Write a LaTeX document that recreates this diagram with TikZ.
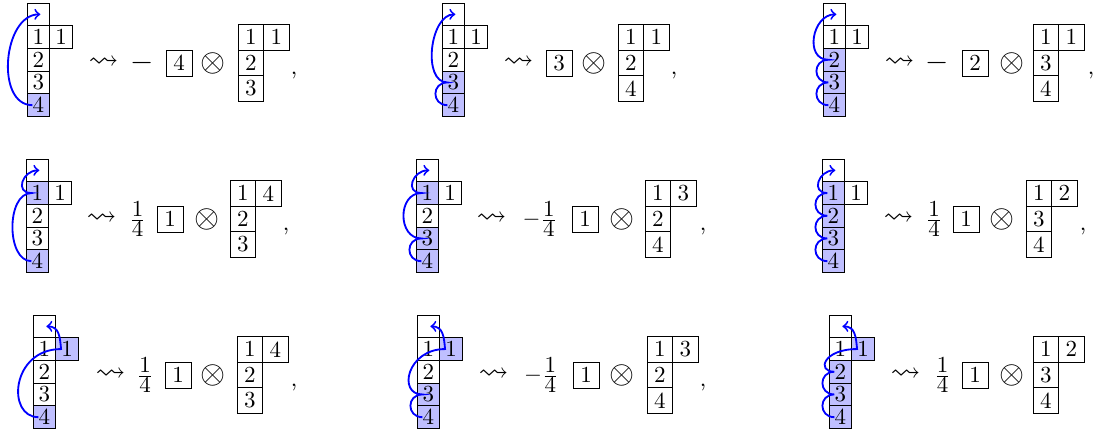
\documentclass[tikz,border=0pt]{standalone}
\usepackage{amssymb}
\usepackage{graphicx}
\usetikzlibrary{calc}
\definecolor{shadeblue}{RGB}{191,191,255}
\tikzset{
  cellL/.style={draw, inner sep=0pt, minimum width=9.87pt, minimum height=9.87pt},
  shcellL/.style={cellL, fill=shadeblue},
  cellR/.style={draw, inner sep=0pt, minimum width=11.13pt, minimum height=11.13pt},
  boxed/.style={draw, inner sep=0pt, minimum width=11.3pt, minimum height=11.3pt},
  sym/.style={inner sep=0pt},
  arr/.style={blue, line width=0.8pt, ->},
}
\newcommand\enl[1]{\scalebox{1.3}{$#1$}}
\newcommand\qtr{$\frac{\textstyle 1}{\textstyle 4}$}
% left tableau: name, left x, top y, styles of rows 1..4 and of the second-column cell
\newcommand\lefttab[8]{%
  \node[cellL] (#1-0) at (#2+11.35,#3+11.35) {};
  \node[#4] (#1-1) at (#2+11.35,#3+34.05) {1};
  \node[#5] (#1-2) at (#2+11.35,#3+56.75) {2};
  \node[#6] (#1-3) at (#2+11.35,#3+79.45) {3};
  \node[#7] (#1-4) at (#2+11.35,#3+102.15) {4};
  \node[#8] (#1-1r) at (#2+34.05,#3+34.05) {1};
}
% squiggle, box and otimes: name, y0, squiggle left, box left, box entry, otimes centre
\newcommand\opbox[6]{%
  \node[sym] (#1-s) at (#3+13.5,#2+60) {\enl{\rightsquigarrow}};
  \node[boxed] (#1-b) at (#4+13,#2+60) {#5};
  \node[sym] (#1-o) at (#6,#2+60) {\scalebox{1.4}{$\otimes$}};
}
% right tableau: name, y0, left x, top-right entry, second row, third row
\newcommand\rtab[6]{%
  \node[cellR] (#1-r11) at (#3+12.8,#2+34.3) {1};
  \node[cellR] (#1-r12) at (#3+38.4,#2+34.3) {#4};
  \node[cellR] (#1-r2) at (#3+12.8,#2+59.9) {#5};
  \node[cellR] (#1-r3) at (#3+12.8,#2+85.5) {#6};
}
\begin{document}
\begin{tikzpicture}[x=0.4348pt,y=-0.4348pt]
\useasboundingbox (0,0) rectangle (1097,434);
% ---------------- row 1 ----------------
\lefttab{a}{27}{3}{cellL}{cellL}{cellL}{shcellL}{cellL}
\opbox{a}{3}{90}{166}{4}{213}
\node[sym] (a-c) at (142.5,63) {\enl{-}};
\rtab{a}{3}{238}{1}{2}{3}
\node[sym,anchor=base] (a-k) at (294,74) {,};
\draw[arr] ($(a-4)+(-6,0)$) to[out=180,in=180,looseness=1.05] ($(a-0)+(2,0)$);

\lefttab{b}{442}{3}{cellL}{cellL}{shcellL}{shcellL}{cellL}
\opbox{b}{3}{505}{546}{3}{594}
\rtab{b}{3}{618}{1}{2}{4}
\node[sym,anchor=base] (b-k) at (674,74) {,};
\draw[arr] ($(b-4)+(-6,0)$) to[out=180,in=180,looseness=1.8] ($(b-3)+(-6,0)$)
  to[out=180,in=180,looseness=0.95] ($(b-0)+(2,0)$);

\lefttab{c}{823}{3}{cellL}{shcellL}{shcellL}{shcellL}{cellL}
\opbox{c}{3}{886}{962}{2}{1012}
\node[sym] (c-c) at (937.5,63) {\enl{-}};
\rtab{c}{3}{1033}{1}{3}{4}
\node[sym,anchor=base] (c-k) at (1091,74) {,};
\draw[arr] ($(c-4)+(-6,0)$) to[out=180,in=180,looseness=1.8] ($(c-3)+(-6,0)$)
  to[out=180,in=180,looseness=1.8] ($(c-2)+(-6,0)$)
  to[out=180,in=180,looseness=1.35] ($(c-0)+(2,0)$);
% ---------------- row 2 ----------------
\lefttab{d}{26}{159}{shcellL}{cellL}{cellL}{shcellL}{cellL}
\opbox{d}{159}{88}{157}{1}{207}
\node[sym] (d-c) at (137.5,219) {\qtr};
\rtab{d}{159}{230}{4}{2}{3}
\node[sym,anchor=base] (d-k) at (286,230) {,};
\draw[arr] ($(d-4)+(-6,0)$) to[out=180,in=180,looseness=0.95] ($(d-1)+(-6,0)$)
  to[out=180,in=180,looseness=1.8] ($(d-0)+(2,0)$);

\lefttab{e}{416}{159}{shcellL}{cellL}{shcellL}{shcellL}{cellL}
\opbox{e}{159}{478}{572}{1}{622}
\node[sym] (e-c) at (540,219) {$-$\qtr};
\rtab{e}{159}{645}{3}{2}{4}
\node[sym,anchor=base] (e-k) at (703,230) {,};
\draw[arr] ($(e-4)+(-6,0)$) to[out=180,in=180,looseness=1.8] ($(e-3)+(-6,0)$)
  to[out=180,in=180,looseness=1.35] ($(e-1)+(-6,0)$)
  to[out=180,in=180,looseness=1.8] ($(e-0)+(2,0)$);

\lefttab{f}{822}{159}{shcellL}{shcellL}{shcellL}{shcellL}{cellL}
\opbox{f}{159}{885}{953}{1}{1002}
\node[sym] (f-c) at (934,219) {\qtr};
\rtab{f}{159}{1026}{2}{3}{4}
\node[sym,anchor=base] (f-k) at (1083,230) {,};
\draw[arr] ($(f-4)+(-6,0)$) to[out=180,in=180,looseness=1.8] ($(f-3)+(-6,0)$)
  to[out=180,in=180,looseness=1.8] ($(f-2)+(-6,0)$)
  to[out=180,in=180,looseness=1.8] ($(f-1)+(-6,0)$)
  to[out=180,in=180,looseness=1.8] ($(f-0)+(2,0)$);
% ---------------- row 3 ----------------
\lefttab{g}{33}{315}{cellL}{cellL}{cellL}{shcellL}{shcellL}
\opbox{g}{315}{97}{165}{1}{213}
\node[sym] (g-c) at (145,375) {\qtr};
\rtab{g}{315}{237}{4}{2}{3}
\node[sym,anchor=base] (g-k) at (294,386) {,};
\draw[arr] ($(g-4)+(-6,0)$) .. controls +(-32,0) and +(-50,0) .. ($(g-1r)+(-6,0)$)
  to[out=95,in=0,looseness=1.2] ($(g-0)+(2,0)$);

\lefttab{h}{417}{315}{cellL}{cellL}{shcellL}{shcellL}{shcellL}
\opbox{h}{315}{480}{573}{1}{622}
\node[sym] (h-c) at (541.5,375) {$-$\qtr};
\rtab{h}{315}{647}{3}{2}{4}
\node[sym,anchor=base] (h-k) at (703,386) {,};
\draw[arr] ($(h-4)+(-6,0)$) to[out=180,in=180,looseness=1.8] ($(h-3)+(-6,0)$)
  .. controls +(-25,0) and +(-38,0) .. ($(h-1r)+(-6,0)$)
  to[out=95,in=0,looseness=1.2] ($(h-0)+(2,0)$);

\lefttab{i}{829}{315}{cellL}{shcellL}{shcellL}{shcellL}{shcellL}
\opbox{i}{315}{892}{962}{1}{1012}
\node[sym] (i-c) at (942.5,375) {\qtr};
\rtab{i}{315}{1033}{2}{3}{4}
\draw[arr] ($(i-4)+(-6,0)$) to[out=180,in=180,looseness=1.8] ($(i-3)+(-6,0)$)
  to[out=180,in=180,looseness=1.8] ($(i-2)+(-6,0)$)
  .. controls +(-18,0) and +(-34,0) .. ($(i-1r)+(-6,0)$)
  to[out=95,in=0,looseness=1.2] ($(i-0)+(2,0)$);
\end{tikzpicture}
\end{document}
